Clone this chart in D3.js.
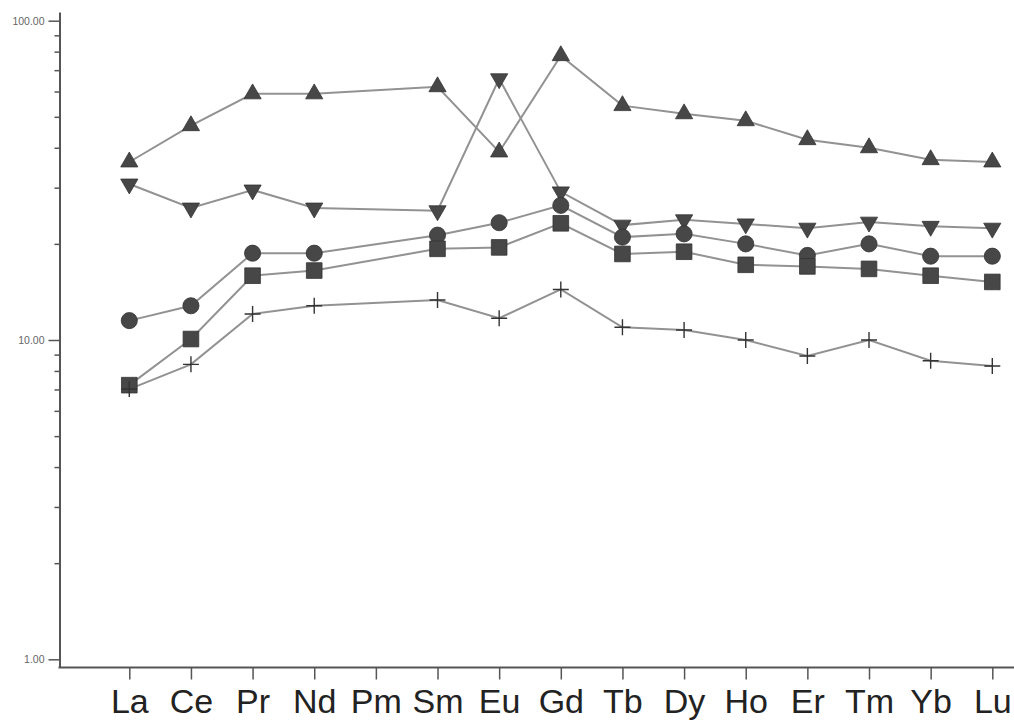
<!DOCTYPE html>
<html>
<head>
<meta charset="utf-8">
<script src="https://cdn.jsdelivr.net/npm/d3@7"></script>
<style>
  body { margin: 0; background: #fff; }
  svg { display: block; }
</style>
</head>
<body>
<div id="chart_wrapper"></div>
<script>
var elements = ["La", "Ce", "Pr", "Nd", "Pm", "Sm", "Eu", "Gd", "Tb", "Dy", "Ho", "Er", "Tm", "Yb", "Lu"];

// chondrite-normalised values, null = not analysed (Pm)
var triUp   = [36.1, 46.9, 59.0, 59.0, null, 62.1, 38.8, 77.7, 54.2, 51.1, 48.6, 42.4, 40.0, 36.7, 36.1];
var triDown = [30.8, 25.9, 29.5, 25.9, null, 25.4, 65.8, 29.1, 22.9, 23.8, 23.1, 22.4, 23.4, 22.7, 22.4];
var circles = [11.5, 12.8, 18.7, 18.7, null, 21.3, 23.3, 26.4, 21.0, 21.5, 20.0, 18.4, 20.0, 18.3, 18.3];
var squares = [7.22, 10.07, 15.9, 16.5, null, 19.3, 19.5, 23.2, 18.6, 18.9, 17.2, 17.0, 16.7, 15.9, 15.2];
var crosses = [7.02, 8.39, 12.06, 12.8, null, 13.35, 11.7, 14.4, 10.96, 10.75, 10.0, 8.91, 10.0, 8.61, 8.29];

var majorTicks = [1, 10, 100];
var minorTicks = [2, 3, 4, 5, 6, 7, 8, 9, 20, 30, 40, 50, 60, 70, 80, 90];

var wrapperWidth = 1014,
    wrapperHeight = 726;

var svg = d3.select("#chart_wrapper").append("svg")
    .attr("width", wrapperWidth)
    .attr("height", wrapperHeight);

var axisX = 59.5,
    axisY = 667.5;

var x = d3.scalePoint().domain(elements).range([129.3, 992.3]);

// 1 sits at 659.3, 100 at 20.7 -> extend the domain to the axis ends
var y0 = d3.scaleLog().domain([1, 100]).range([659.3, 20.7]);
var y = d3.scaleLog().domain([y0.invert(axisY), y0.invert(12)]).range([axisY, 12]);

var axisColor = "#555";

// y axis
var yAxis = svg.append("g")
    .attr("transform", "translate(" + axisX + ",0)")
    .call(d3.axisLeft(y).tickValues(majorTicks).tickFormat(d3.format(".2f")).tickSize(11).tickSizeOuter(0).tickPadding(4));
yAxis.select(".domain").attr("stroke", axisColor).attr("stroke-width", 2);
yAxis.selectAll(".tick line").attr("stroke", axisColor).attr("stroke-width", 1.5);
yAxis.selectAll(".tick text")
    .attr("fill", "#666")
    .style("font-family", "Arial, 'Liberation Sans', sans-serif")
    .style("font-size", "10.5px");

var yMinor = svg.append("g")
    .attr("transform", "translate(" + axisX + ",0)")
    .call(d3.axisLeft(y).tickValues(minorTicks).tickFormat("").tickSize(5).tickSizeOuter(0));
yMinor.select(".domain").remove();
yMinor.selectAll(".tick line").attr("stroke", axisColor).attr("stroke-width", 1.5);

// x axis
var xAxis = svg.append("g")
    .attr("transform", "translate(0," + axisY + ")")
    .call(d3.axisBottom(x).tickSize(12).tickSizeOuter(0).tickPadding(9.5));
xAxis.select(".domain").attr("d", "M" + (axisX - 1) + ",0H" + wrapperWidth)
    .attr("stroke", axisColor).attr("stroke-width", 2);
xAxis.selectAll(".tick line").attr("stroke", axisColor).attr("stroke-width", 1.5);
xAxis.selectAll(".tick text")
    .attr("fill", "#222")
    .style("font-family", "Arial, 'Liberation Sans', sans-serif")
    .style("font-size", "34px");

var series = [
  { values: triUp,   shape: "up" },
  { values: triDown, shape: "down" },
  { values: circles, shape: "circle" },
  { values: squares, shape: "square" },
  { values: crosses, shape: "cross" }
];

series.forEach(function(s) {
  s.points = elements.map(function(el, i) { return { el: el, v: s.values[i] }; })
      .filter(function(d) { return d.v != null; });
});

var line = d3.line()
    .x(function(d) { return x(d.el); })
    .y(function(d) { return y(d.v); });

svg.append("g").attr("class", "lines")
  .selectAll("path")
  .data(series)
  .enter().append("path")
    .attr("d", function(s) { return line(s.points); })
    .attr("fill", "none")
    .attr("stroke", "#929292")
    .attr("stroke-width", 2);

var symbols = {
  up: d3.symbol().type(d3.symbolTriangle).size(128)(),
  down: d3.symbol().type(d3.symbolTriangle).size(128)(),
  circle: d3.symbol().type(d3.symbolCircle).size(205)(),
  square: d3.symbol().type(d3.symbolSquare).size(245)(),
  cross: "M-8,0H8M0,-8V8"
};

series.forEach(function(s) {
  svg.append("g").attr("class", "marks")
    .selectAll("path")
    .data(s.points)
    .enter().append("path")
      .attr("transform", function(d) {
        return "translate(" + x(d.el) + "," + y(d.v) + ")" + (s.shape == "down" ? " rotate(180)" : "");
      })
      .attr("d", symbols[s.shape])
      .attr("fill", s.shape == "cross" ? "none" : "#474747")
      .attr("stroke", "#333")
      .attr("stroke-width", s.shape == "cross" ? 1.4 : 0.8);
});
</script>
</body>
</html>
